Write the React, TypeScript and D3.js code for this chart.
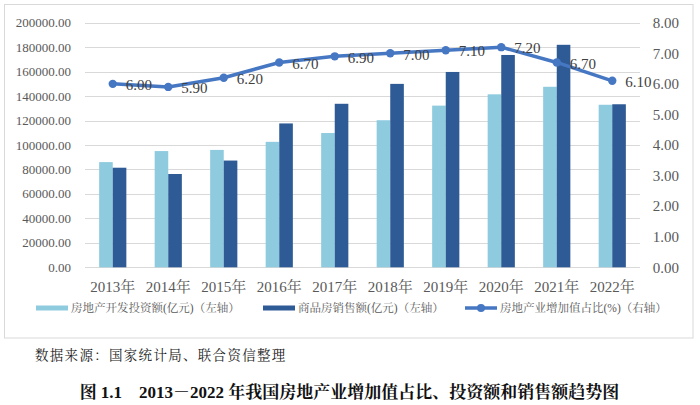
import React from "react";
import * as d3 from "d3";

const years = ["2013年", "2014年", "2015年", "2016年", "2017年", "2018年", "2019年", "2020年", "2021年", "2022年"];
const investment = [86013, 95036, 95979, 102581, 109799, 120264, 132194, 141443, 147602, 132895];
const sales = [81428, 76292, 87281, 117627, 133701, 149973, 159725, 173613, 181930, 133308];
const shareGdp = [6.0, 5.9, 6.2, 6.7, 6.9, 7.0, 7.1, 7.2, 6.7, 6.1];
const leftTicks = [0, 20000, 40000, 60000, 80000, 100000, 120000, 140000, 160000, 180000, 200000];
const rightTicks = [0, 1, 2, 3, 4, 5, 6, 7, 8];
const seriesNames = ["房地产开发投资额(亿元)（左轴）", "商品房销售额(亿元)（左轴）", "房地产业增加值占比(%)（右轴）"];
const sourceText = "数据来源：国家统计局、联合资信整理";
const titleText = "图 1.1　2013－2022 年我国房地产业增加值占比、投资额和销售额趋势图";

const LIGHT = "#8fcbdf";
const DARK = "#2e5a95";
const LINE = "#4677c2";
const SERIF = "'Liberation Serif', 'Times New Roman', 'Noto Serif CJK SC', 'Noto Sans CJK SC', serif";

export default function App() {
  const W = 700, H = 405;
  const left = 85, right = 640, top = 22.7, bottom = 267.3;
  const x = d3.scaleBand<string>().domain(years).range([left, right]).padding(0);
  const yL = d3.scaleLinear().domain([0, 200000]).range([bottom, top]);
  const yR = d3.scaleLinear().domain([0, 8]).range([bottom, top]);
  const bw = x.bandwidth() * 0.245;
  const cx = (d: string) => (x(d) as number) + x.bandwidth() / 2;
  const line = d3.line<number>().x((_, i) => cx(years[i])).y((v) => yR(v));

  const legendY = 308;
  const legendItems = [
    { x0: 36, type: "rect", color: LIGHT },
    { x0: 263, type: "rect", color: DARK },
    { x0: 465, type: "line", color: LINE },
  ];

  return (
    <svg width={W} height={H} style={{ position: "absolute", left: 0, top: 0, background: "#fff" }}>
      <rect x={0} y={0} width={W} height={H} fill="#fff" />
      <rect x={4.5} y={4.5} width={688.5} height={333.5} fill="#fff" stroke="#d9d9d9" strokeWidth={1} />
      {leftTicks.map((t) => (
        <g key={"gl" + t}>
          <line x1={left} x2={right} y1={Math.round(yL(t)) + 0.5} y2={Math.round(yL(t)) + 0.5} stroke="#d9d9d9" strokeWidth={1} />
          <text x={71} y={yL(t)} dy="0.35em" textAnchor="end" fontFamily={SERIF} fontSize={13} fill="#595959">
            {t.toFixed(2)}
          </text>
        </g>
      ))}
      {rightTicks.map((t) => (
        <text key={"r" + t} x={679} y={yR(t)} dy="0.35em" textAnchor="end" fontFamily={SERIF} fontSize={15} fill="#595959">
          {t.toFixed(2)}
        </text>
      ))}
      {years.map((yr, i) => (
        <g key={yr}>
          <rect x={cx(yr) - bw} y={yL(investment[i])} width={bw} height={bottom - yL(investment[i])} fill={LIGHT} />
          <rect x={cx(yr)} y={yL(sales[i])} width={bw} height={bottom - yL(sales[i])} fill={DARK} />
          <text x={cx(yr)} y={287} dy="0.35em" textAnchor="middle" fontFamily={SERIF} fontSize={15} fill="#595959">
            {yr}
          </text>
        </g>
      ))}
      <path d={line(shareGdp) || ""} fill="none" stroke={LINE} strokeWidth={3.5} strokeLinejoin="round" />
      {shareGdp.map((v, i) => (
        <circle key={"m" + i} cx={cx(years[i])} cy={yR(v)} r={4.2} fill={LINE} />
      ))}
      {shareGdp.map((v, i) => (
        <text key={"l" + i} x={cx(years[i]) + 13} y={yR(v) + 1} dy="0.35em" fontFamily={SERIF} fontSize={15} fill="#404040">
          {v.toFixed(2)}
        </text>
      ))}
      {legendItems.map((it, i) => (
        <g key={"lg" + i}>
          {it.type === "rect" ? (
            <rect x={it.x0} y={legendY - 2.5} width={32} height={5} fill={it.color} />
          ) : (
            <g>
              <line x1={it.x0} x2={it.x0 + 32} y1={legendY} y2={legendY} stroke={it.color} strokeWidth={3.5} />
              <circle cx={it.x0 + 16} cy={legendY} r={4} fill={it.color} />
            </g>
          )}
          <text x={it.x0 + 35} y={legendY} dy="0.35em" fontFamily={SERIF} fontSize={11.5} fill="#595959">
            {seriesNames[i]}
          </text>
        </g>
      ))}
      <text x={35} y={355} dy="0.35em" fontFamily={SERIF} fontSize={13.5} letterSpacing={1.3} fill="#222">
        {sourceText}
      </text>
      <text x={349.5} y={392} dy="0.35em" textAnchor="middle" fontFamily={SERIF} fontSize={17} fontWeight="bold" fill="#111">
        {titleText}
      </text>
    </svg>
  );
}
